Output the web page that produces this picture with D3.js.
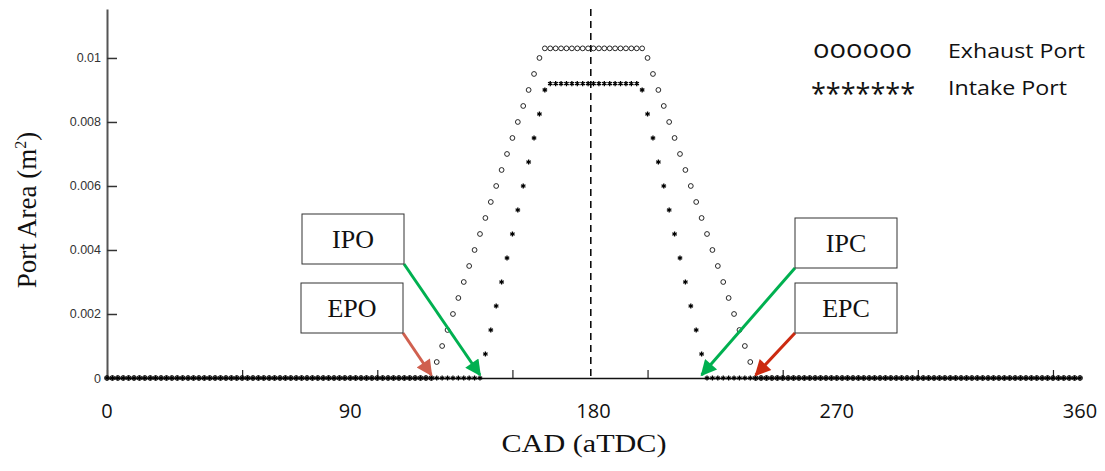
<!DOCTYPE html>
<html>
<head>
<meta charset="utf-8">
<script src="https://cdn.jsdelivr.net/npm/d3@7"></script>
<style>
  body { margin: 0; background: #fff; }
  svg { display: block; }
</style>
</head>
<body>
<div id="chart"></div>
<script>
// crank angle grid, one marker every 2 degrees
var angles = d3.range(0, 361, 2);

// exhaust port area (m^2)
var exhaustArea = [
  0,0,0,0,0,0,0,0,0,0,            // 0-18
  0,0,0,0,0,0,0,0,0,0,            // 20-38
  0,0,0,0,0,0,0,0,0,0,            // 40-58
  0,0,0,0,0,0,0,0,0,0,            // 60-78
  0,0,0,0,0,0,0,0,0,0,            // 80-98
  0,0,0,0,0,0,0,0,0,0,            // 100-118
  0,                              // 120
  0.0005,0.001,0.0015,0.002,0.0025,0.003,0.0035,0.004,0.0045,0.005,   // 122-140
  0.0055,0.006,0.0065,0.007,0.0075,0.008,0.0085,0.009,0.0095,0.01,    // 142-160
  0.0103,0.0103,0.0103,0.0103,0.0103,0.0103,0.0103,0.0103,0.0103,0.0103, // 162-180
  0.0103,0.0103,0.0103,0.0103,0.0103,0.0103,0.0103,0.0103,0.0103,     // 182-198
  0.01,0.0095,0.009,0.0085,0.008,0.0075,0.007,0.0065,0.006,0.0055,    // 200-218
  0.005,0.0045,0.004,0.0035,0.003,0.0025,0.002,0.0015,0.001,0.0005,   // 220-238
  0,                              // 240
  0,0,0,0,0,0,0,0,0,0,            // 242-260
  0,0,0,0,0,0,0,0,0,0,            // 262-280
  0,0,0,0,0,0,0,0,0,0,            // 282-300
  0,0,0,0,0,0,0,0,0,0,            // 302-320
  0,0,0,0,0,0,0,0,0,0,            // 322-340
  0,0,0,0,0,0,0,0,0,0             // 342-360
];

// intake port area (m^2)
var intakeArea = [
  0,0,0,0,0,0,0,0,0,0,            // 0-18
  0,0,0,0,0,0,0,0,0,0,            // 20-38
  0,0,0,0,0,0,0,0,0,0,            // 40-58
  0,0,0,0,0,0,0,0,0,0,            // 60-78
  0,0,0,0,0,0,0,0,0,0,            // 80-98
  0,0,0,0,0,0,0,0,0,0,            // 100-118
  0,0,0,0,0,0,0,0,0,0,            // 120-138
  0.00075,0.0015,0.00225,0.003,0.00375,0.0045,0.00525,0.006,0.00675,0.0075,0.00825,0.009, // 140-162
  0.0092,0.0092,0.0092,0.0092,0.0092,0.0092,0.0092,0.0092,0.0092,     // 164-180
  0.0092,0.0092,0.0092,0.0092,0.0092,0.0092,0.0092,0.0092,            // 182-196
  0.009,0.00825,0.0075,0.00675,0.006,0.00525,0.0045,0.00375,0.003,0.00225,0.0015,0.00075, // 198-220
  0,0,0,0,0,0,0,0,0,0,            // 222-240
  0,0,0,0,0,0,0,0,0,0,            // 242-260
  0,0,0,0,0,0,0,0,0,0,            // 262-280
  0,0,0,0,0,0,0,0,0,0,            // 282-300
  0,0,0,0,0,0,0,0,0,0,            // 302-320
  0,0,0,0,0,0,0,0,0,0,            // 322-340
  0,0,0,0,0,0,0,0,0,0             // 342-360
];

var yTicks = [0, 0.002, 0.004, 0.006, 0.008, 0.01];
var xTicks = [0, 50, 100, 150, 200, 250, 300, 350];
var xLabels = [0, 90, 180, 270, 360];
var tdcAngle = 179;

// open/close events: label, angle the arrow points at, colour
var events = [
  { label: "IPO", angle: 138, color: "#00b050" },
  { label: "EPO", angle: 120, color: "#d0604f" },
  { label: "IPC", angle: 220, color: "#00b050" },
  { label: "EPC", angle: 240, color: "#cc2a10" }
];

// Set up the chart viewport
var svgWidth = 1105;
var svgHeight = 471;
var margin = { top: 9, right: 25, bottom: 93, left: 107 };
var width = svgWidth - margin.left - margin.right;
var height = svgHeight - margin.top - margin.bottom;

var svg = d3.select("#chart")
  .append("svg")
  .attr("width", svgWidth)
  .attr("height", svgHeight);
var chartGroup = svg.append("g")
  .attr("transform", `translate(${margin.left}, ${margin.top})`);

var xScale = d3.scaleLinear().domain([0, 360]).range([0, width]);
var yScale = d3.scaleLinear().domain([0, 0.01153]).range([height, 0]);

// x axis: ticks point up, no numbers (labels are added separately)
var bottomAxis = d3.axisBottom(xScale)
  .tickValues(xTicks)
  .tickSizeInner(-8)
  .tickSizeOuter(0)
  .tickFormat("");
var xAxisG = chartGroup.append("g")
  .attr("transform", `translate(0, ${height})`)
  .call(bottomAxis);
xAxisG.select(".domain").attr("stroke", "#111").attr("stroke-width", 1.5);
xAxisG.selectAll(".tick line").attr("stroke", "#222").attr("stroke-width", 1.2);

// y axis: ticks point into the plot
var leftAxis = d3.axisLeft(yScale)
  .tickValues(yTicks)
  .tickSizeInner(-10)
  .tickSizeOuter(0)
  .tickPadding(6)
  .tickFormat(d => d === 0 ? "0" : String(+d.toFixed(3)));
var yAxisG = chartGroup.append("g").call(leftAxis);
yAxisG.select(".domain").attr("stroke", "#555").attr("stroke-width", 2);
yAxisG.selectAll(".tick line").attr("stroke", "#333").attr("stroke-width", 1.5);
yAxisG.selectAll(".tick text")
  .attr("font-family", "Liberation Sans, Arial, sans-serif")
  .attr("font-size", 12.5)
  .attr("fill", "#333");

// dashed TDC/BDC line
chartGroup.append("line")
  .attr("x1", xScale(tdcAngle))
  .attr("x2", xScale(tdcAngle))
  .attr("y1", yScale(0.01153))
  .attr("y2", yScale(0))
  .attr("stroke", "#000")
  .attr("stroke-width", 1.5)
  .attr("stroke-dasharray", "7,5");

var exhaustData = angles.map((a, i) => ({ angle: a, area: exhaustArea[i] }));
var intakeData = angles.map((a, i) => ({ angle: a, area: intakeArea[i] }));

// exhaust markers (hollow circles)
chartGroup.selectAll(".exh")
  .data(exhaustData)
  .enter()
  .append("circle")
  .attr("class", "exh")
  .attr("cx", d => xScale(d.angle))
  .attr("cy", d => yScale(d.area))
  .attr("r", 2.4)
  .attr("fill", "none")
  .attr("stroke", "#111")
  .attr("stroke-width", 0.9);

// intake markers (asterisks)
var star = d3.symbol().type(d3.symbolAsterisk).size(18);
chartGroup.selectAll(".int")
  .data(intakeData)
  .enter()
  .append("path")
  .attr("class", "int")
  .attr("d", star)
  .attr("transform", d => `translate(${xScale(d.angle)}, ${yScale(d.area)})`)
  .attr("fill", "none")
  .attr("stroke", "#000")
  .attr("stroke-width", 1.3);

// x tick labels
chartGroup.selectAll(".xlab")
  .data(xLabels)
  .enter()
  .append("text")
  .attr("class", "xlab")
  .attr("x", d => xScale(d))
  .attr("y", height + 40)
  .attr("text-anchor", "middle")
  .attr("font-family", "Open Sans, sans-serif")
  .attr("font-size", 20)
  .attr("fill", "#111")
  .text(d => d);

// x axis title
chartGroup.append("text")
  .attr("x", 584 - margin.left)
  .attr("y", height + 74)
  .attr("text-anchor", "middle")
  .attr("font-family", "Liberation Serif, Times New Roman, serif")
  .attr("font-size", 25)
  .attr("textLength", 165)
  .attr("lengthAdjust", "spacingAndGlyphs")
  .attr("fill", "#111")
  .text("CAD (aTDC)");

// y axis title
var yTitle = svg.append("text")
  .attr("transform", "translate(36, 210) rotate(-90)")
  .attr("text-anchor", "middle")
  .attr("font-family", "Liberation Serif, Times New Roman, serif")
  .attr("font-size", 27)
  .attr("fill", "#111");
yTitle.append("tspan").text("Port Area (m");
yTitle.append("tspan").attr("font-size", 16).attr("dy", -10).text("2");
yTitle.append("tspan").attr("dy", 10).text(")");

// legend
var legend = svg.append("g")
  .attr("font-family", "Open Sans, sans-serif")
  .attr("fill", "#111");
legend.append("text").attr("x", 813).attr("y", 58)
  .attr("font-size", 25).attr("textLength", 99).attr("lengthAdjust", "spacingAndGlyphs")
  .text("oooooo");
legend.append("text").attr("x", 948).attr("y", 58)
  .attr("font-size", 20).attr("textLength", 137).attr("lengthAdjust", "spacingAndGlyphs")
  .text("Exhaust Port");
legend.append("text").attr("x", 811).attr("y", 104)
  .attr("font-size", 30).attr("textLength", 104).attr("lengthAdjust", "spacingAndGlyphs")
  .text("*******");
legend.append("text").attr("x", 948).attr("y", 95)
  .attr("font-size", 20).attr("textLength", 119).attr("lengthAdjust", "spacingAndGlyphs")
  .text("Intake Port");

// arrowheads
var defs = svg.append("defs");
events.forEach((e, i) => {
  defs.append("marker")
    .attr("id", "head" + i)
    .attr("viewBox", "0 0 10 10")
    .attr("refX", 9)
    .attr("refY", 5)
    .attr("markerUnits", "userSpaceOnUse")
    .attr("markerWidth", 18)
    .attr("markerHeight", 16)
    .attr("orient", "auto")
    .append("path")
    .attr("d", "M0,0 L10,5 L0,10 Z")
    .attr("fill", e.color);
});

// annotation boxes (absolute page position of each box)
var boxes = [
  { x: 302, y: 214, start: [404, 264] },
  { x: 301, y: 283, start: [403, 333] },
  { x: 795, y: 218, start: [795, 268] },
  { x: 795, y: 283, start: [795, 333] }
];
var boxW = 102, boxH = 50;

events.forEach((e, i) => {
  var b = boxes[i];
  svg.append("line")
    .attr("x1", b.start[0])
    .attr("y1", b.start[1])
    .attr("x2", margin.left + xScale(e.angle))
    .attr("y2", margin.top + yScale(0) - 3)
    .attr("stroke", e.color)
    .attr("stroke-width", 3)
    .attr("marker-end", `url(#head${i})`);
  svg.append("rect")
    .attr("x", b.x).attr("y", b.y)
    .attr("width", boxW).attr("height", boxH)
    .attr("fill", "#fff")
    .attr("stroke", "#333")
    .attr("stroke-width", 1);
  svg.append("text")
    .attr("x", b.x + boxW / 2)
    .attr("y", b.y + boxH / 2 + 9)
    .attr("text-anchor", "middle")
    .attr("font-family", "Liberation Serif, Times New Roman, serif")
    .attr("font-size", 26)
    .attr("fill", "#111")
    .text(e.label);
});
</script>
</body>
</html>
